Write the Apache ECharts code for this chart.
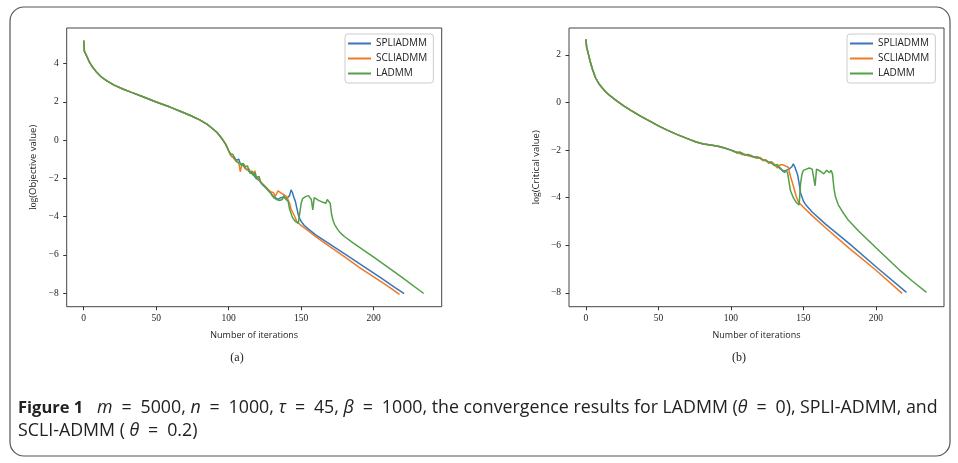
<!DOCTYPE html>
<html>
	<head>
		<meta charset="utf-8">
		<title>Figure 1</title>
		<script src="https://cdn.jsdelivr.net/npm/echarts@6.0.0/dist/echarts.min.js" type="text/javascript"></script>
		<style type="text/css">
			html,
			body {
				margin: 0;
				padding: 0;
				background: #fff;
			}

			#chart {
				width: 958px;
				height: 463px;
			}
		</style>
	</head>
	<body>
		<div id="chart"></div>
		<script type="text/javascript">
			// 图例名称
			var seriesNames = ['SPLIADMM', 'SCLIADMM', 'LADMM'];
			var xTicks = [0, 50, 100, 150, 200];
			var objTicks = [-8, -6, -4, -2, 0, 2, 4];
			var critTicks = [-8, -6, -4, -2, 0, 2];

			// (a) log(Objective value), 前 100 次迭代三条线重合
			var objHead = [
				[0, 5.21], [0.5, 4.65], [1, 4.6], [2, 4.42], [4, 4.08], [6, 3.84], [9, 3.55], [12, 3.32],
				[16, 3.1], [21, 2.88], [27, 2.68], [33, 2.5], [40, 2.3], [50, 2.0], [60, 1.72], [67, 1.5],
				[74, 1.28], [80, 1.06], [85, 0.84], [89, 0.6], [92, 0.4], [95, 0.12], [98, -0.22], [100, -0.55]
			];
			var objSpli = [
				[101, -0.65], [102, -0.85], [103, -0.8], [104, -0.9], [105, -1.05], [106, -1.1], [107, -1.0],
				[108, -1.25], [109, -1.3], [110, -1.25], [111, -1.45], [112, -1.4], [113, -1.55], [114, -1.5],
				[115, -1.7], [116, -1.65], [117, -1.8], [118, -1.75], [119, -2.0], [120, -1.95], [121, -2.1],
				[122, -2.15], [123, -2.3], [124, -2.2], [125, -2.45], [126, -2.4], [127, -2.6], [128, -2.55],
				[129, -2.75], [130, -2.9], [131, -2.8], [132, -3.0], [133, -2.95], [134, -3.1], [135, -3.05],
				[136, -3.0], [137, -3.1], [138, -3.0], [139, -2.95], [140, -3.05], [141, -3.0], [142, -2.9],
				[143, -2.6], [144, -2.75], [145, -3.0], [146, -3.2], [147, -3.55], [148, -3.9], [149, -4.1],
				[150, -4.25], [152, -4.45], [155, -4.65], [160, -4.95], [170, -5.45], [180, -5.95], [193, -6.6],
				[205, -7.2], [215, -7.72], [221, -8.02]
			];
			var objScli = [
				[101, -0.75], [102, -0.7], [103, -0.9], [104, -0.85], [105, -1.1], [106, -1.0], [107, -1.2],
				[108, -1.65], [109, -1.3], [110, -1.35], [111, -1.3], [112, -1.55], [113, -1.45], [114, -1.5],
				[115, -1.65], [116, -1.55], [117, -1.75], [118, -1.6], [119, -1.9], [120, -2.0], [121, -2.05],
				[122, -2.0], [123, -2.25], [124, -2.15], [125, -2.4], [126, -2.3], [127, -2.55], [128, -2.5],
				[129, -2.7], [130, -2.8], [131, -2.75], [132, -2.95], [133, -2.8], [134, -2.65], [135, -2.6],
				[136, -2.75], [137, -2.7], [138, -2.85], [139, -2.9], [140, -2.95], [141, -3.0], [142, -3.3],
				[143, -3.6], [145, -3.9], [147, -4.25], [149, -4.4], [155, -4.75], [160, -5.05], [170, -5.58],
				[180, -6.1], [190, -6.65], [200, -7.15], [210, -7.65], [217.8, -8.07]
			];
			var objLadmm = [
				[101, -0.7], [102, -0.8], [103, -0.75], [104, -0.95], [105, -1.0], [106, -1.15], [107, -1.05],
				[108, -1.2], [109, -1.35], [110, -1.2], [111, -1.4], [112, -1.5], [113, -1.35], [114, -1.6],
				[115, -1.75], [116, -1.6], [117, -1.85], [118, -1.7], [119, -1.95], [120, -2.05], [121, -1.9],
				[122, -2.2], [123, -2.1], [124, -2.35], [125, -2.25], [126, -2.5], [127, -2.4], [128, -2.7],
				[129, -2.6], [130, -2.85], [131, -3.0], [132, -2.9], [133, -3.1], [134, -3.0], [135, -3.15],
				[136, -3.05], [137, -3.1], [138, -2.9], [139, -3.05], [140, -2.95], [141, -3.2], [142, -3.6],
				[144, -4.05], [146, -4.25], [148, -4.35], [149, -4.3], [150, -3.3], [151, -3.05], [153, -2.95],
				[155, -2.9], [157, -3.1], [158, -3.65], [159, -3.0], [160, -2.95], [162, -3.15], [163, -3.2],
				[165, -3.25], [166, -3.15], [167, -3.3], [168, -3.1], [169, -3.05], [170, -3.3], [171, -3.9],
				[172, -4.2], [173, -4.4], [175, -4.65], [177, -4.85], [180, -5.05], [186, -5.38], [200, -6.12],
				[209, -6.6], [220, -7.2], [234.5, -8.02]
			];

			// (b) log(Critical value)
			var critHead = [
				[0, 2.65], [0.5, 2.3], [1, 2.2], [2, 1.95], [3, 1.7], [4.5, 1.4], [6.5, 1.05], [9, 0.78],
				[11, 0.63], [14, 0.42], [17, 0.27], [21, 0.08], [26, -0.14], [31, -0.33], [37, -0.55], [44, -0.78],
				[50, -0.98], [56, -1.16], [63, -1.35], [70, -1.52], [76, -1.66], [81, -1.74], [86, -1.79],
				[91, -1.84], [95, -1.9], [100, -2.0]
			];
			var critSpli = [
				[102, -2.04], [104, -2.12], [106, -2.1], [108, -2.14], [110, -2.22], [112, -2.2], [114, -2.27],
				[116, -2.28], [118, -2.32], [120, -2.33], [122, -2.42], [124, -2.43], [126, -2.52], [128, -2.5],
				[130, -2.62], [132, -2.7], [134, -2.75], [136, -2.9], [138, -2.85], [140, -2.8], [142, -2.7],
				[143, -2.58], [144, -2.7], [146, -3.05], [147, -3.4], [148, -3.8], [150, -4.15], [152, -4.33],
				[156, -4.6], [165, -5.1], [182, -5.95], [200, -6.9], [221, -7.98]
			];
			var critScli = [
				[102, -2.06], [104, -2.08], [106, -2.15], [108, -2.2], [110, -2.18], [112, -2.25], [114, -2.22],
				[116, -2.3], [118, -2.35], [120, -2.3], [122, -2.45], [124, -2.4], [126, -2.55], [128, -2.5],
				[130, -2.6], [132, -2.75], [133, -2.7], [134, -2.62], [135, -2.58], [136, -2.62], [137, -2.7],
				[138, -2.68], [139.5, -2.72], [141, -3.1], [143, -3.5], [145, -3.95], [146.5, -4.18], [150, -4.4],
				[155, -4.7], [165, -5.25], [182, -6.15], [200, -7.05], [218, -8.02]
			];
			var critLadmm = [
				[102, -2.05], [104, -2.1], [106, -2.08], [108, -2.15], [110, -2.2], [112, -2.18], [114, -2.25],
				[116, -2.3], [118, -2.28], [120, -2.35], [122, -2.4], [124, -2.45], [126, -2.5], [128, -2.55],
				[130, -2.65], [132, -2.6], [134, -2.8], [136, -2.85], [137, -2.95], [138, -2.85], [139, -2.95],
				[140, -3.0], [141, -3.7], [143, -4.0], [145, -4.2], [147, -4.3], [148, -3.4], [149, -3.0],
				[150, -2.85], [152, -2.8], [154, -2.75], [156, -2.8], [157, -2.85], [158, -3.5], [159, -2.8],
				[160, -2.75], [162, -2.9], [164, -3.0], [165, -2.95], [166, -2.85], [167, -2.9], [168, -2.95],
				[169, -2.85], [170, -3.0], [171, -3.6], [172, -3.95], [174, -4.3], [177, -4.6], [181, -4.95],
				[188, -5.4], [200, -6.1], [216, -7.03], [225, -7.5], [234.8, -7.98]
			];

			var colors = ['#3a75ba', '#ee7a26', '#52a046'];
			var tickFont = 'Liberation Serif';
			var sansFont = 'Open Sans';
			// 公式里等号两边留宽一点
			var EQ = '\u2002=\u2002';

			function minusSign(v) {
				return String(v).replace('-', '\u2212');
			}

			function makeXAxis(gridIndex) {
				return {
					type: 'value',
					gridIndex: gridIndex,
					min: -11.7,
					max: 246.9,
					name: 'Number of iterations',
					nameLocation: 'middle',
					nameGap: 24,
					nameTextStyle: {
						fontFamily: sansFont,
						fontSize: 9,
						color: '#222'
					},
					axisLine: {
						show: false,
						onZero: false
					},
					axisTick: {
						show: true,
						length: 3.5,
						customValues: xTicks,
						lineStyle: {
							color: '#333'
						}
					},
					axisLabel: {
						customValues: xTicks,
						margin: 7,
						fontFamily: tickFont,
						fontSize: 9.5,
						color: '#222'
					},
					splitLine: {
						show: false
					}
				};
			}

			function makeYAxis(gridIndex, min, max, ticks, title) {
				return {
					type: 'value',
					gridIndex: gridIndex,
					min: min,
					max: max,
					name: '{s|log}(' + title + ')',
					nameLocation: 'middle',
					nameGap: 28,
					nameTextStyle: {
						fontFamily: sansFont,
						fontSize: 9.5,
						color: '#222',
						rich: {
							s: {
								fontFamily: tickFont,
								fontSize: 9.5,
								color: '#222'
							}
						}
					},
					axisLine: {
						show: false,
						onZero: false
					},
					axisTick: {
						show: true,
						length: 3.5,
						customValues: ticks,
						lineStyle: {
							color: '#333'
						}
					},
					axisLabel: {
						customValues: ticks,
						margin: 8,
						fontFamily: tickFont,
						fontSize: 9.5,
						color: '#222',
						formatter: minusSign
					},
					splitLine: {
						show: false
					}
				};
			}

			function makeLegend(left) {
				return {
					orient: 'vertical',
					left: left,
					top: 34,
					padding: [3, 6, 3, 3],
					itemGap: 2,
					itemWidth: 23,
					itemHeight: 2,
					icon: 'rect',
					backgroundColor: 'rgba(255,255,255,0.85)',
					borderColor: '#cccccc',
					borderWidth: 1,
					borderRadius: 3,
					textStyle: {
						fontFamily: sansFont,
						fontSize: 10,
						lineHeight: 13,
						color: '#222'
					},
					data: seriesNames
				};
			}

			function makeLine(name, idx, gridIndex, data) {
				return {
					name: name,
					type: 'line',
					xAxisIndex: gridIndex,
					yAxisIndex: gridIndex,
					showSymbol: false,
					symbol: 'none',
					color: colors[idx],
					lineStyle: {
						color: colors[idx],
						width: 1.5
					},
					data: data
				};
			}

			var captionRich = {
				b: {
					fontFamily: sansFont,
					fontWeight: 'bold',
					fontSize: 16.5,
					color: '#1d3c63'
				},
				i: {
					fontFamily: sansFont,
					fontStyle: 'italic',
					fontSize: 17.8,
					color: '#222'
				}
			};

			var chart = echarts.init(document.getElementById('chart'));
			var option = {
				animation: false,
				backgroundColor: '#fff',
				grid: [{
					left: 66.7,
					top: 28,
					width: 375,
					height: 278.7,
					show: true,
					borderColor: '#444',
					borderWidth: 1
				}, {
					left: 569,
					top: 28,
					width: 375,
					height: 278.7,
					show: true,
					borderColor: '#444',
					borderWidth: 1
				}],
				legend: [makeLegend(345), makeLegend(847)],
				xAxis: [makeXAxis(0), makeXAxis(1)],
				yAxis: [
					makeYAxis(0, -8.71, 5.87, objTicks, 'Objective value'),
					makeYAxis(1, -8.58, 3.13, critTicks, 'Critical value')
				],
				series: [
					makeLine(seriesNames[0], 0, 0, objHead.concat(objSpli)),
					makeLine(seriesNames[1], 1, 0, objHead.concat(objScli)),
					makeLine(seriesNames[2], 2, 0, objHead.concat(objLadmm)),
					makeLine(seriesNames[0], 0, 1, critHead.concat(critSpli)),
					makeLine(seriesNames[1], 1, 1, critHead.concat(critScli)),
					makeLine(seriesNames[2], 2, 1, critHead.concat(critLadmm))
				],
				graphic: [{
					// 外框
					type: 'rect',
					shape: {
						x: 10,
						y: 7,
						width: 940,
						height: 449,
						r: 14
					},
					style: {
						fill: 'none',
						stroke: '#555',
						lineWidth: 1.2
					},
					z: -1
				}, {
					type: 'text',
					x: 237,
					y: 358,
					style: {
						text: '(a)',
						font: '12px "Liberation Serif"',
						fill: '#222',
						textAlign: 'center',
						textVerticalAlign: 'middle'
					}
				}, {
					type: 'text',
					x: 739,
					y: 358,
					style: {
						text: '(b)',
						font: '12px "Liberation Serif"',
						fill: '#222',
						textAlign: 'center',
						textVerticalAlign: 'middle'
					}
				}, {
					type: 'text',
					x: 18,
					y: 408,
					style: {
						text: '{b|Figure 1}   {i|m}' + EQ + '5000, {i|n}' + EQ + '1000, {i|\u03c4}' + EQ + '45, {i|\u03b2}' + EQ +
							'1000, the convergence results for LADMM ({i|\u03b8}' + EQ + '0), SPLI-ADMM, and',
						font: '17.8px "Open Sans"',
						fill: '#222',
						textVerticalAlign: 'middle',
						rich: captionRich
					}
				}, {
					type: 'text',
					x: 18,
					y: 431,
					style: {
						text: 'SCLI-ADMM ( {i|\u03b8}' + EQ + '0.2)',
						font: '17.8px "Open Sans"',
						fill: '#222',
						textVerticalAlign: 'middle',
						rich: captionRich
					}
				}]
			};
			chart.setOption(option);
		</script>
	</body>
</html>
